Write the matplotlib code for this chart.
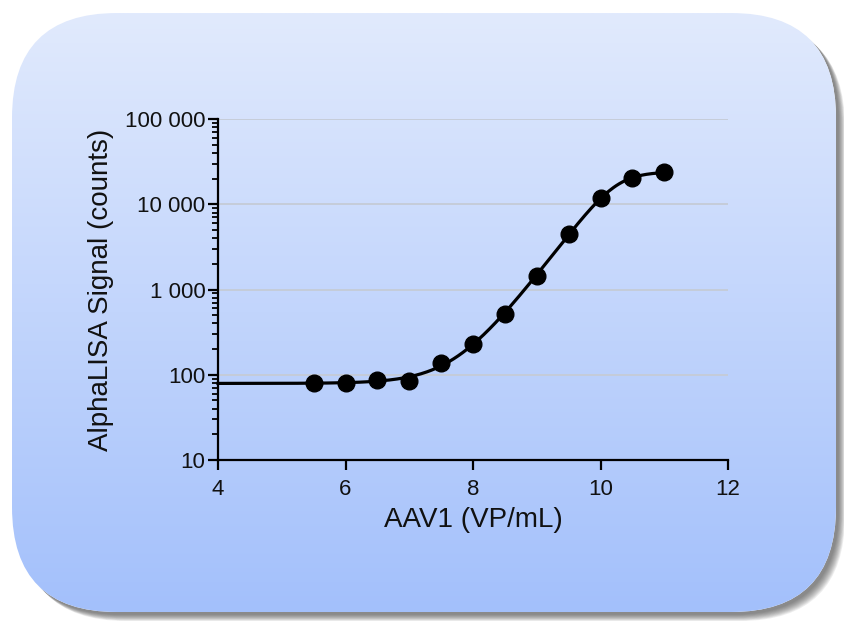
import numpy as np
import matplotlib
matplotlib.use("Agg")
import matplotlib.pyplot as plt
from matplotlib.patches import FancyBboxPatch
from matplotlib.ticker import FixedLocator, FuncFormatter, LogLocator, NullFormatter

plt.rcParams['font.family'] = ['Liberation Sans', 'DejaVu Sans']

# data
log_conc = [5.5, 6.0, 6.5, 7.0, 7.5, 8.0, 8.5, 9.0, 9.5, 10.0, 10.5, 11.0]
signal = [81, 80, 87, 85, 138, 231, 520, 1450, 4500, 11700, 20200, 23700]
x_ticks = [4, 6, 8, 10, 12]
y_ticks = [10, 100, 1000, 10000, 100000]
x_label = "AAV1 (VP/mL)"
y_label = "AlphaLISA Signal (counts)"


# 5-parameter logistic fit (log-y residuals), simple Levenberg-Marquardt
def logistic5(p, x):
    lb, lt, c, h, s = p
    b, t = 10 ** lb, 10 ** lt
    return b + (t - b) / (1 + 10 ** ((c - x) * h)) ** s


def fit_curve(x, y):
    x = np.asarray(x, float)
    ly = np.log10(y)
    p = np.array([np.log10(80), np.log10(26000), 9.3, 1.1, 1.0])
    lam = 1e-2

    def res(q):
        return np.log10(logistic5(q, x)) - ly

    r = res(p)
    for _ in range(400):
        J = np.empty((len(x), len(p)))
        for i in range(len(p)):
            d = np.zeros_like(p)
            d[i] = 1e-6
            J[:, i] = (res(p + d) - r) / 1e-6
        A = J.T @ J
        g = J.T @ r
        step = np.linalg.solve(A + lam * np.diag(np.diag(A) + 1e-9), -g)
        pn = p + step
        pn[4] = max(pn[4], 0.05)
        rn = res(pn)
        if np.all(np.isfinite(rn)) and (rn @ rn) < (r @ r):
            p, r = pn, rn
            lam *= 0.3
        else:
            lam *= 5
    return p


params = fit_curve(log_conc, signal)
xs = np.linspace(4, 11, 300)
ys = logistic5(params, xs)

W, H = 844, 624
fig = plt.figure(figsize=(W / 100, H / 100), dpi=100)
fig.patch.set_facecolor("white")

# rounded gradient card with drop shadow
bg = fig.add_axes([0, 0, 1, 1], zorder=0)
bg.set_xlim(0, W)
bg.set_ylim(H, 0)
bg.axis("off")
x0, y0, x1, y1 = 12, 13, 836, 612
rad = 105
for k in range(10, 0, -1):
    sh = FancyBboxPatch((x0 + rad + 2 + k * 0.7, y0 + rad + 2 + k * 0.7),
                        (x1 - x0) - 2 * rad, (y1 - y0) - 2 * rad,
                        boxstyle=f"round,pad={rad}", lw=0,
                        fc="#444444", alpha=0.09)
    bg.add_patch(sh)
card = FancyBboxPatch((x0 + rad, y0 + rad), (x1 - x0) - 2 * rad, (y1 - y0) - 2 * rad,
                      boxstyle=f"round,pad={rad}", lw=0, fc="white")
bg.add_patch(card)
grad = np.linspace(0, 1, 256)[:, None]
top_c = np.array([0xe1, 0xea, 0xfd]) / 255
bot_c = np.array([0xa3, 0xc0, 0xfb]) / 255
img = top_c[None, None, :] * (1 - grad[..., None]) + bot_c[None, None, :] * grad[..., None]
im = bg.imshow(np.repeat(img, 2, axis=1), extent=(x0, x1, y1, y0), aspect="auto", zorder=3)
im.set_clip_path(card)

# main plot
ax = fig.add_axes([218 / W, 1 - 460 / H, (728 - 218) / W, (460 - 119) / H], zorder=2)
ax.patch.set_alpha(0)
ax.set_yscale("log")
ax.set_xlim(4, 12)
ax.set_ylim(10, 100000)

for v in y_ticks[1:]:
    ax.axhline(v, color="#c5cbd6", lw=1.3, zorder=1)

ax.plot(xs, ys, color="black", lw=2.3, zorder=3, clip_on=False)
ax.plot(log_conc, signal, "o", color="black", ms=12, zorder=4, clip_on=False)

ax.xaxis.set_major_locator(FixedLocator(x_ticks))
ax.yaxis.set_major_locator(FixedLocator(y_ticks))
ax.yaxis.set_minor_locator(LogLocator(base=10, subs=np.arange(2, 10)))
ax.yaxis.set_minor_formatter(NullFormatter())
ax.yaxis.set_major_formatter(FuncFormatter(lambda v, _: f"{int(round(v)):,}".replace(",", " ")))

for side in ["top", "right"]:
    ax.spines[side].set_visible(False)
for side in ["left", "bottom"]:
    ax.spines[side].set_linewidth(1.6)
    ax.spines[side].set_color("black")
ax.tick_params(axis="both", which="major", length=7, width=1.6, color="black",
               labelsize=16, labelcolor="#111111", direction="out")
ax.tick_params(axis="x", which="major", pad=7)
ax.tick_params(axis="y", which="major", pad=2)
ax.tick_params(axis="y", which="minor", length=4, width=1.3, color="black")

ax.set_xlabel(x_label, fontsize=20, color="#111111", labelpad=5)
ax.set_ylabel(y_label, fontsize=20, color="#111111", labelpad=8)

fig.savefig("out.png", dpi=100)
